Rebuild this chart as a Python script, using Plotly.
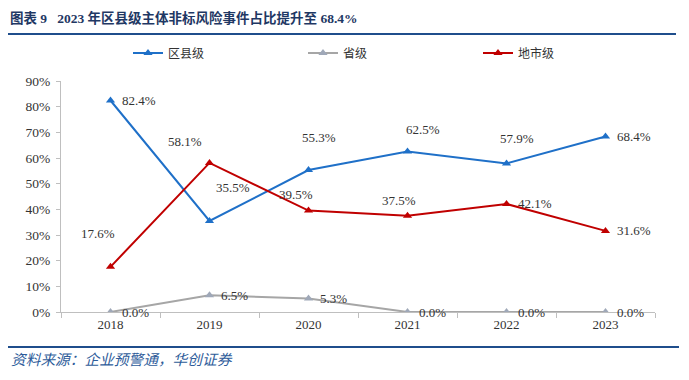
import plotly.graph_objects as go

years = ["2018", "2019", "2020", "2021", "2022", "2023"]
county = [82.4, 35.5, 55.3, 62.5, 57.9, 68.4]
province = [0.0, 6.5, 5.3, 0.0, 0.0, 0.0]
city = [17.6, 58.1, 39.5, 37.5, 42.1, 31.6]
series_names = ["区县级", "省级", "地市级"]
y_ticks = [0, 10, 20, 30, 40, 50, 60, 70, 80, 90]
y_tick_text = ["0%", "10%", "20%", "30%", "40%", "50%", "60%", "70%", "80%", "90%"]

title_text = "图表 9&nbsp;&nbsp;&nbsp;2023 年区县级主体非标风险事件占比提升至 68.4%"
source_text = "资料来源：企业预警通，华创证券"

colors = ["#1F70C8", "#A6A6A6", "#C00000"]
marker_colors = ["#1F70C8", "#9FA8B8", "#C00000"]

# label placements (xanchor, xshift, yshift) per point
county_lbl = [("left", 9, 0), ("center", 23, 33), ("center", 10, 33),
              ("center", 15, 22), ("center", 10, 25), ("left", 9, 0)]
city_lbl = [("center", -13, 33), ("center", -25, 21), ("center", -13, 16),
            ("center", -9, 15), ("left", 9, 0), ("left", 9, 0)]
prov_lbl = [("left", 9, 0)] * 6

W, H = 689, 380
OFF = 8  # page body margin
ML, MT = 53, 73
PW, PH = 594, 231
MR, MB = W - ML - PW, H - MT - PH


def px(x_page):
    return (x_page - OFF - ML) / PW


def py(y_page):
    return (MT + PH - (y_page - OFF)) / PH


serif = "Liberation Serif, Times New Roman, Noto Sans CJK SC"
cjk = "Noto Sans CJK SC"

fig = go.Figure()
for name, vals, c, mc in zip(series_names, [county, province, city], colors, marker_colors):
    fig.add_trace(go.Scatter(
        x=years, y=vals, name=name, mode="lines+markers",
        line=dict(color=c, width=2),
        marker=dict(symbol="triangle-up", size=8, color=mc),
    ))

for vals, lbls in [(county, county_lbl), (city, city_lbl), (province, prov_lbl)]:
    for i, (v, (xa, xs, ys)) in enumerate(zip(vals, lbls)):
        fig.add_annotation(x=i, y=v, xref="x", yref="y", text=f"{v:.1f}%", showarrow=False,
                           xanchor=xa, yanchor="middle", xshift=xs, yshift=ys,
                           font=dict(family=serif, size=13, color="#333333"))

# title
fig.add_annotation(xref="paper", yref="paper", x=px(8), y=py(18), xanchor="left", yanchor="middle",
                   text="<b>" + title_text + "</b>", showarrow=False,
                   font=dict(family=serif, size=13.5, color="#1F3864"))
# source
fig.add_annotation(xref="paper", yref="paper", x=px(9), y=py(358), xanchor="left", yanchor="middle",
                   text="<i>" + source_text + "</i>", showarrow=False,
                   font=dict(family=cjk, size=14.7, color="#2E5C9A"))

fig.add_shape(type="line", xref="paper", yref="paper", x0=px(8), x1=px(676), y0=py(34), y1=py(34),
              line=dict(color="#1F4E8C", width=2))
fig.add_shape(type="line", xref="paper", yref="paper", x0=px(8), x1=px(679), y0=py(347), y1=py(347),
              line=dict(color="#1F4E8C", width=2))

fig.update_layout(
    width=W, height=H,
    margin=dict(l=ML, r=MR, t=MT, b=MB, autoexpand=False),
    paper_bgcolor="white", plot_bgcolor="white",
    showlegend=True,
    legend=dict(orientation="h", xref="container", yref="container", x=(135 - OFF - 7) / W,
                y=1 - (53 - OFF) / H,
                xanchor="left", yanchor="middle",
                entrywidth=130, entrywidthmode="pixels", itemwidth=30,
                font=dict(family=cjk, size=12, color="#333333"), bgcolor="rgba(0,0,0,0)"),
    xaxis=dict(type="category", range=[-0.5, 5.5], showline=True, linecolor="#BFBFBF", linewidth=1,
               ticks="outside", tickson="boundaries", ticklen=5, tickcolor="#BFBFBF",
               showgrid=False, zeroline=False, automargin=False,
               tickfont=dict(family=serif, size=13, color="#333333")),
    yaxis=dict(range=[0, 90], tickmode="array", tickvals=y_ticks, ticktext=y_tick_text,
               showline=True, linecolor="#BFBFBF", automargin=False, ticklabelstandoff=3,
               linewidth=1, ticks="outside", ticklen=4, tickcolor="#BFBFBF", showgrid=False,
               zeroline=False, tickfont=dict(family=serif, size=13.5, color="#333333")),
)

fig.write_html("out.html")
